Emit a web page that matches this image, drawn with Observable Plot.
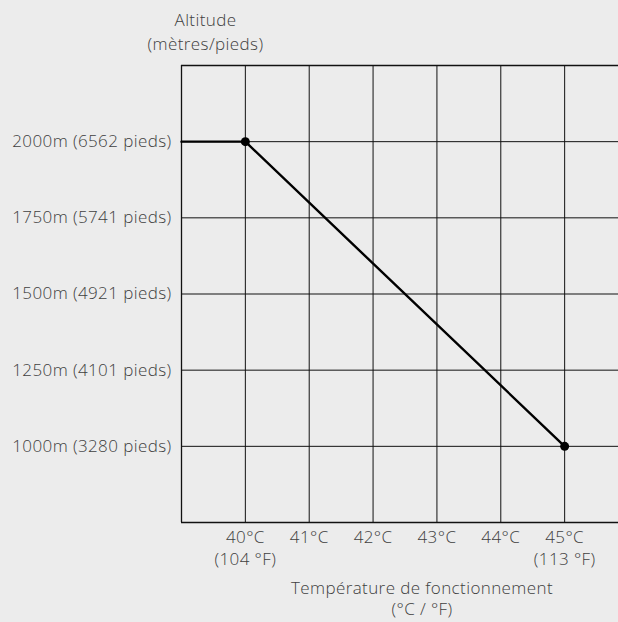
<!DOCTYPE html>
<html>
<head>
<meta charset="utf-8">
<script src="https://cdn.jsdelivr.net/npm/d3@7"></script>
<script src="https://cdn.jsdelivr.net/npm/@observablehq/plot@0.6"></script>
<style>
  html, body { margin: 0; padding: 0; background: #ececec; overflow: hidden; }
  #chart svg { display: block; max-width: none; }
  #chart svg text { letter-spacing: 0.4px; }
</style>
</head>
<body>
<div id="chart"></div>
<script>
// Data
const tempC = [40, 41, 42, 43, 44, 45];
const tempF = {40: "104 °F", 45: "113 °F"};
const altitudes = [1000, 1250, 1500, 1750, 2000];
const altitudeFeet = [3280, 4101, 4921, 5741, 6562];
const curveTemp = [39, 40, 45];
const curveAlt = [2000, 2000, 1000];
const pointTemp = [40, 45];
const pointAlt = [2000, 1000];
const xDomain = [39, 46];
const yDomain = [750, 2250];

const curve = curveTemp.map((t, i) => ({t, a: curveAlt[i]}));
const points = pointTemp.map((t, i) => ({t, a: pointAlt[i]}));
const yLabels = altitudes.map((a, i) => ({a, label: `${a}m (${altitudeFeet[i]} pieds)`}));
const xLabels = tempC.map(t => ({t, label: tempF[t] ? `${t}°C\n(${tempF[t]})` : `${t}°C`}));

const font = "'Open Sans', 'Liberation Sans', sans-serif";
const textColor = "#404040";
const fs = 17;

const chart = Plot.plot({
  width: 618,
  height: 622,
  marginTop: 65,
  marginBottom: 100,
  marginLeft: 181,
  marginRight: 0,
  style: {background: "#ececec", fontFamily: font, fontWeight: 300, overflow: "hidden"},
  x: {domain: xDomain, range: [181, 628], axis: null},
  y: {domain: yDomain, axis: null},
  marks: [
    // grid
    Plot.ruleX(tempC, {x: d => d, y1: yDomain[0], y2: yDomain[1], stroke: "#111", strokeWidth: 1}),
    Plot.ruleY(altitudes, {y: d => d, x1: xDomain[0], x2: xDomain[1], stroke: "#111", strokeWidth: 1}),
    // frame
    Plot.ruleX([xDomain[0]], {y1: yDomain[0], y2: yDomain[1], stroke: "#111", strokeWidth: 1.3}),
    Plot.ruleY(yDomain, {x1: xDomain[0], x2: xDomain[1], stroke: "#111", strokeWidth: 1.3}),
    // curve
    Plot.line(curve, {x: "t", y: "a", stroke: "#000", strokeWidth: 2.4}),
    Plot.dot(points, {x: "t", y: "a", r: 4.5, fill: "#000"}),
    // y tick labels
    Plot.text(yLabels, {x: xDomain[0], y: "a", text: "label", textAnchor: "end", dx: -10, fontSize: fs, fill: textColor}),
    // x tick labels
    Plot.text(xLabels, {x: "t", y: yDomain[0], text: "label", lineAnchor: "top", dy: 5, lineHeight: 1.3, fontSize: fs, fill: textColor}),
    // axis titles
    Plot.text(["Altitude\n(mètres/pieds)"], {frameAnchor: "top-left", dx: 24, dy: -56, lineAnchor: "top", textAnchor: "middle", lineHeight: 1.4, fontSize: fs, fill: textColor}),
    Plot.text(["Température de fonctionnement\n(°C / °F)"], {frameAnchor: "bottom", dx: 22, dy: 56, lineAnchor: "top", textAnchor: "middle", lineHeight: 1.25, fontSize: fs, fill: textColor})
  ]
});
document.getElementById("chart").appendChild(chart);
</script>
</body>
</html>
